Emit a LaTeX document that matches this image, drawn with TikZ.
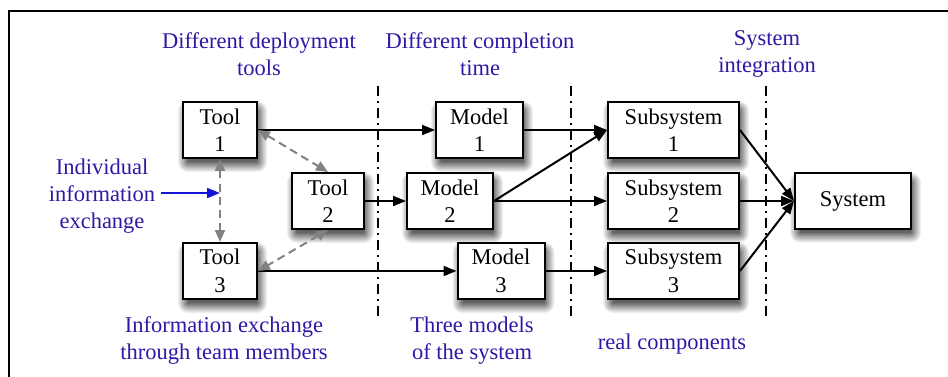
\documentclass[tikz,border=0pt]{standalone}
\usepackage{fontspec}
\setmainfont{Liberation Serif}
\usetikzlibrary{arrows.meta,calc,backgrounds}
\definecolor{labblue}{RGB}{45,25,165}
\definecolor{arrblue}{RGB}{20,20,215}
\definecolor{dgray}{RGB}{130,130,130}
\begin{document}
\begin{tikzpicture}[x=1pt,y=-1pt,
  box/.style={draw=black, line width=2pt, fill=white, inner sep=0pt, align=center,
    font=\fontsize{22.5}{27.5}\selectfont},
  lab/.style={text=labblue, align=center, font=\fontsize{22.5}{27}\selectfont, inner sep=0pt},
  conn/.style={line width=2pt, -{Triangle[length=13pt,width=10pt]}},
  link/.style={line width=2pt, dgray, dash pattern=on 8pt off 5pt,
    {Triangle[length=12pt,width=10pt]}-{Triangle[length=12pt,width=10pt]}},
  infoarrow/.style={line width=2pt, arrblue, -{Triangle[length=13pt,width=10pt]}},
  divider/.style={line width=1.4pt, dash pattern=on 10pt off 5pt on 2pt off 5pt},
  frame/.style={line width=2pt}]
\useasboundingbox (0,0) rectangle (948,377);
% frame
\coordinate (fbl) at (9,377);
\coordinate (ftl) at (9,11);
\coordinate (ftr) at (948,11);
\draw[frame] (fbl) -- (ftl) -- (ftr);
% dividers
\foreach \x/\n in {378/a,571/b,766/c}{
  \coordinate (d\n top) at (\x,86);
  \coordinate (d\n bot) at (\x,318);
  \draw[divider] (d\n top) -- (d\n bot);
}
% boxes
\node[box, minimum width=74pt, minimum height=56pt] (t1) at (220,130) {Tool\\1};
\node[box, minimum width=72pt, minimum height=56pt] (t2) at (328,201) {Tool\\2};
\node[box, minimum width=74pt, minimum height=56pt] (t3) at (220,271) {Tool\\3};
\node[box, minimum width=87pt, minimum height=56pt] (m1) at (479.5,130) {Model\\1};
\node[box, minimum width=86pt, minimum height=56pt] (m2) at (450,201) {Model\\2};
\node[box, minimum width=87pt, minimum height=56pt] (m3) at (501,271) {Model\\3};
\node[box, minimum width=131pt, minimum height=56pt] (s1) at (673.5,130) {Subsystem\\1};
\node[box, minimum width=131pt, minimum height=56pt] (s2) at (673.5,201) {Subsystem\\2};
\node[box, minimum width=131pt, minimum height=56pt] (s3) at (673.5,271) {Subsystem\\3};
\node[box, minimum width=116pt, minimum height=55pt] (sys) at (853,201) {System};
% soft shadows (opaque grey steps, light outside to dark inside)
\begin{pgfonlayer}{background}
\foreach \n in {t1,t2,t3,m1,m2,m3,s1,s2,s3,sys}{
  \foreach \r in {10,9,...,0}{
    \pgfmathsetmacro{\shade}{int(6+5.5*(10-\r))}
    \fill[black!\shade, rounded corners=\r pt]
      ($(\n.north west)+(6-\r,10-\r)$) rectangle ($(\n.south east)+(\r-1,3+\r)$);
  }
}
\end{pgfonlayer}
% labels
\node[lab] (l1) at (259,54) {Different deployment\\tools};
\node[lab] (l2) at (480,54) {Different completion\\time};
\node[lab] (l3) at (767,54) {System\\integration};
\node[lab] (l4) at (102,196) {Individual\\information\\exchange};
\node[lab] (l5) at (224,341) {Information exchange\\through team members};
\node[lab] (l6) at (472,341) {Three models\\of the system};
\node[lab] (l7) at (672,344) {real components};
% connectors
\draw[conn] (t1.east) -- (m1.west);
\draw[conn] (t2.east) -- (m2.west);
\draw[conn] (t3.east) -- (m3.west);
\draw[conn] (m1.east) -- (s1.west);
\draw[conn] (m2.east) -- (s1.west);
\draw[conn] (m2.east) -- (s2.west);
\draw[conn] (m3.east) -- (s3.west);
\draw[conn] (s1.east) -- (sys.west);
\draw[conn] (s2.east) -- (sys.west);
\draw[conn] (s3.east) -- (sys.west);
% dashed links
\draw[link] (t1.east) -- (t2.north);
\draw[link] (t2.south) -- (t3.east);
\draw[link] (t1.south) -- (t3.north);
\coordinate (ix) at ($(t1.south)!0.41!(t3.north)$);
\draw[infoarrow] (l4.east |- ix) ++(6,0) coordinate (ixs) -- (ix);
\end{tikzpicture}
\end{document}
